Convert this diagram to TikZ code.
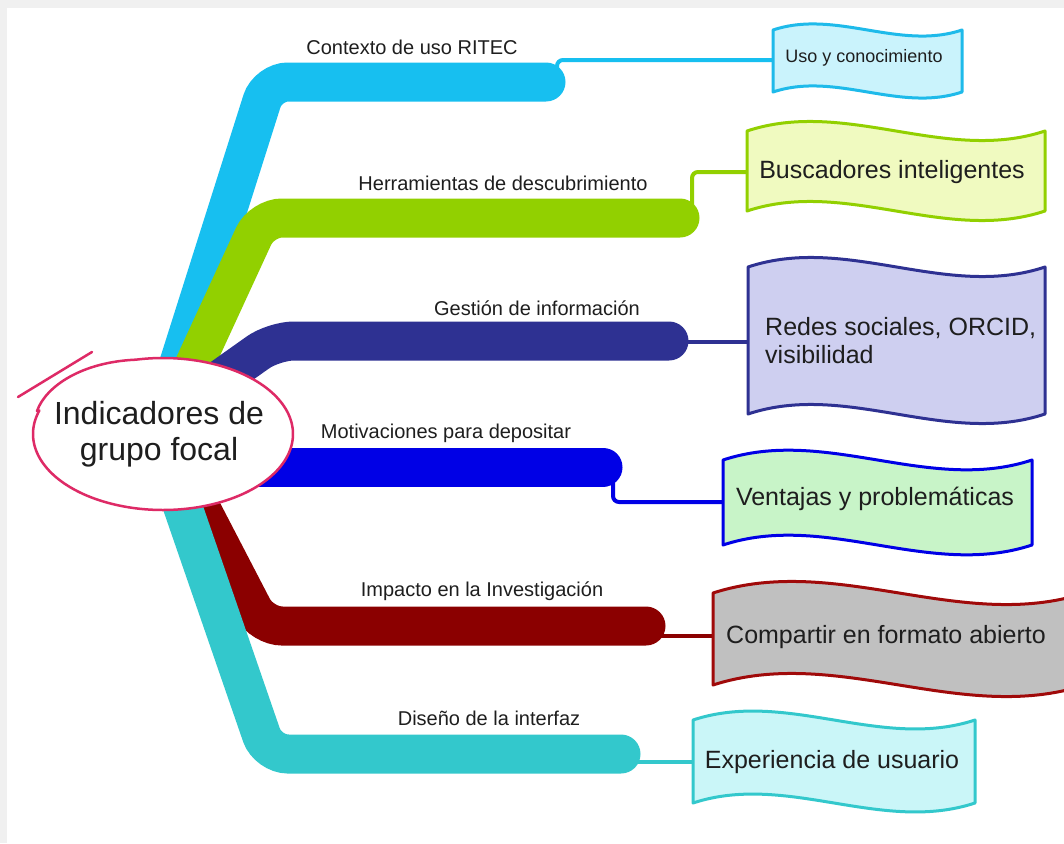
\documentclass[tikz,border=0pt]{standalone}
\usepackage{fontspec}
\setmainfont{Liberation Sans}
\usetikzlibrary{shapes.geometric,calc}
\definecolor{cA}{RGB}{23,191,240}
\definecolor{cAf}{RGB}{202,243,252}
\definecolor{cAs}{RGB}{30,186,234}
\definecolor{cB}{RGB}{146,208,0}
\definecolor{cBf}{RGB}{240,250,192}
\definecolor{cC}{RGB}{46,49,146}
\definecolor{cCf}{RGB}{206,207,240}
\definecolor{cD}{RGB}{0,0,230}
\definecolor{cDf}{RGB}{200,244,200}
\definecolor{cE}{RGB}{139,0,0}
\definecolor{cEs}{RGB}{160,10,10}
\definecolor{cEf}{RGB}{192,192,192}
\definecolor{cF}{RGB}{51,200,204}
\definecolor{cFf}{RGB}{202,246,248}
\definecolor{pinkc}{RGB}{222,42,102}
\definecolor{txt}{RGB}{30,30,30}
\definecolor{bggray}{RGB}{240,240,240}
\newcommand\wavebox[7]{%
  \draw[wavestyle, draw=#6, fill=#7] (#1,#2)
    .. controls ({#1+(#3-#1)/3},{#2-#5}) and ({#1+2*(#3-#1)/3},{#2+#5}) .. (#3,#2)
    -- (#3,#4)
    .. controls ({#1+2*(#3-#1)/3},{#4+#5}) and ({#1+(#3-#1)/3},{#4-#5}) .. (#1,#4)
    -- cycle;}
\begin{document}
\begin{tikzpicture}[x=1pt,y=-1pt,
  bar/.style={line width=39, line cap=round, rounded corners=20},
  thin/.style={line width=4, rounded corners=6},
  wavestyle/.style={line width=3, line join=round},
  lbl/.style={font=\fontsize{20}{24}\selectfont, text=txt, inner sep=0},
  boxtxt/.style={font=\fontsize{25}{28}\selectfont, text=txt, inner sep=0},
  flourish/.style={pinkc, line width=2.5, line cap=round},
]
\useasboundingbox (0,0) rectangle (1064,843);
\fill[bggray] (0,0) rectangle (1064,843);
\fill[white] (7,8) rectangle (1064,843);

% coordinates
\coordinate (a0) at (172,385); \coordinate (a1) at (268,82); \coordinate (a2) at (546,82);
\coordinate (b0) at (185,385); \coordinate (b1) at (262,218); \coordinate (b2) at (680,218);
\coordinate (c0) at (205,390); \coordinate (c1) at (274,341); \coordinate (c2) at (669,341);
\coordinate (d0) at (200,467); \coordinate (d2) at (603,467);
\coordinate (e0) at (181,470); \coordinate (e1) at (262,626); \coordinate (e2) at (646,626);
\coordinate (f0) at (170,470); \coordinate (f1) at (268,754); \coordinate (f2) at (621,754);

% branches
\draw[bar, cA] (a0) -- (a1) -- (a2);
\draw[bar, cB] (b0) -- (b1) -- (b2);
\draw[bar, cC] (c0) -- (c1) -- (c2);
\draw[bar, cD] (d0) -- (d2);
\draw[bar, cE] (e0) -- (e1) -- (e2);
\draw[bar, cF] (f0) -- (f1) -- (f2);

% box anchor coordinates
\coordinate (w1) at (775,60);
\coordinate (w2) at (749,172);
\coordinate (w3) at (750,342);
\coordinate (w4) at (725,502);
\coordinate (w5) at (715,636);
\coordinate (w6) at (695,762);

% connectors
\coordinate (a3) at (557,72);
\coordinate (b3) at (692,205);
\coordinate (c3) at (680,342);
\coordinate (d3) at (613,482);
\coordinate (e3) at (655,636);
\coordinate (f3) at (630,762);
\draw[thin, cA] (a3) |- (w1);
\draw[thin, cB] (b3) |- (w2);
\draw[thin, cC] (c3) -- (w3);
\draw[thin, cD] (d3) |- (w4);
\draw[thin, cE] (e3) -- (w5);
\draw[thin, cF] (f3) -- (w6);

% wave boxes
\wavebox{773}{30}{962}{92}{21}{cAs}{cAf}
\wavebox{747}{131}{1045}{211}{33}{cB}{cBf}
\wavebox{748}{267}{1045}{414}{33}{cC}{cCf}
\wavebox{723}{460}{1032}{545}{34}{cD}{cDf}
\wavebox{713}{593}{1085}{685}{40}{cEs}{cEf}
\wavebox{693}{720}{975}{803}{31}{cF}{cFf}

% box texts
\node[boxtxt, font=\fontsize{18}{22}\selectfont] (t1) at (864,58) {Uso y conocimiento};
\node[boxtxt] (t2) at (892,172) {Buscadores inteligentes};
\node[boxtxt, align=left, anchor=west] (t3) at (765,341) {Redes sociales, ORCID,\\visibilidad};
\node[boxtxt] (t4) at (875,499) {Ventajas y problemáticas};
\node[boxtxt] (t5) at (886,637) {Compartir en formato abierto};
\node[boxtxt] (t6) at (832,762) {Experiencia de usuario};

% branch labels
\node[lbl] (l1) at (412,47) {Contexto de uso RITEC};
\node[lbl] (l2) at (503,183) {Herramientas de descubrimiento};
\node[lbl] (l3) at (537,308) {Gestión de información};
\node[lbl] (l4) at (446,433) {Motivaciones para depositar};
\node[lbl] (l5) at (482,591) {Impacto en la Investigación};
\node[lbl] (l6) at (489,718) {Diseño de la interfaz};

% central node: hand-drawn ellipse outline
\node[ellipse, minimum width=260, minimum height=152, inner sep=0] (c) at (163,434) {};
\filldraw[fill=white, draw=pinkc, line width=2.5, line join=round]
  plot[domain=162:462, samples=150, smooth] ({163+130*cos(\x)}, {434-76*sin(\x)})
  .. controls (82,362) and (46,386) .. (37,411) -- cycle;
\node[align=center, text=txt, inner sep=0, font=\fontsize{32}{36}\selectfont] (ct) at ($(c)+(-4,0)$)
  {Indicadores de\\grupo focal};
\draw[flourish] (18,397) -- (92,352);
\end{tikzpicture}
\end{document}
